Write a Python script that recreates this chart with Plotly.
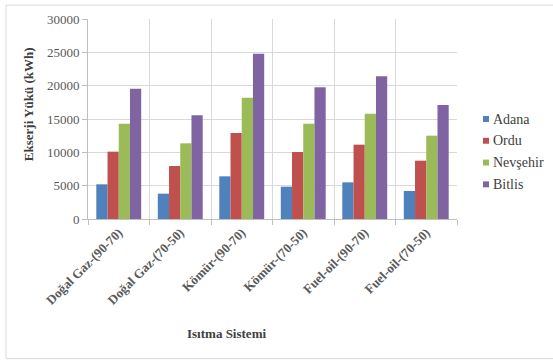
import plotly.graph_objects as go

categories = ["Doğal Gaz-(90-70)", "Doğal Gaz-(70-50)", "Kömür-(90-70)",
              "Kömür-(70-50)", "Fuel-oil-(90-70)", "Fuel-oil-(70-50)"]
adana = [5200, 3800, 6400, 4850, 5500, 4200]
ordu = [10100, 7950, 12900, 10050, 11150, 8750]
nevsehir = [14300, 11350, 18200, 14300, 15800, 12500]
bitlis = [19550, 15550, 24800, 19750, 21400, 17100]
series_names = ["Adana", "Ordu", "Nevşehir", "Bitlis"]
series_colors = ["#4F81BD", "#C0504D", "#9BBB59", "#8064A2"]
y_ticks = [0, 5000, 10000, 15000, 20000, 25000, 30000]

W, H = 553, 361
L, R, T, B = 88, 96, 17, 142
pw, ph = W - L - R, H - T - B


def px_x(x):
    return (x - L) / pw


def px_y(y):
    return (H - B - y) / ph


serif = "Times New Roman"

fig = go.Figure()
for name, vals, col in zip(series_names, [adana, ordu, nevsehir, bitlis], series_colors):
    fig.add_trace(go.Bar(x=categories, y=vals, name=name, marker_color=col,
                         marker_line_width=0, showlegend=False))

shapes = [
    # outer chart frame
    dict(type="rect", xref="paper", yref="paper",
         x0=px_x(6), x1=px_x(558), y0=px_y(360), y1=px_y(3),
         line=dict(color="#d9d9d9", width=1), fillcolor="rgba(0,0,0,0)", layer="below"),
]
annotations = [
    dict(text="<b>Ekserji Yükü (kWh)</b>", xref="paper", yref="paper",
         x=px_x(28), y=px_y(103), textangle=-90, showarrow=False,
         font=dict(family=serif, size=13, color="#404040"), xanchor="center", yanchor="middle"),
    dict(text="<b>Isıtma Sistemi</b>", xref="paper", yref="paper",
         x=px_x(226), y=px_y(335), showarrow=False,
         font=dict(family=serif, size=13, color="#404040"), xanchor="center", yanchor="middle"),
]

# legend: small squares with labels
for i, (name, col) in enumerate(zip(series_names, series_colors)):
    cy = 118 + 22 * i
    shapes.append(dict(type="rect", xref="paper", yref="paper",
                       x0=px_x(483), x1=px_x(489), y0=px_y(cy + 3), y1=px_y(cy - 3),
                       line=dict(width=0), fillcolor=col))
    annotations.append(dict(text=name, xref="paper", yref="paper",
                            x=px_x(491), y=px_y(cy), showarrow=False,
                            xanchor="left", yanchor="middle",
                            font=dict(family=serif, size=14, color="#404040")))

fig.update_layout(
    width=W, height=H,
    margin=dict(l=L, r=R, t=T, b=B),
    paper_bgcolor="white", plot_bgcolor="white",
    barmode="group", bargap=0.27, bargroupgap=0,
    showlegend=False,
    shapes=shapes, annotations=annotations,
    xaxis=dict(type="category", tickson="boundaries", showgrid=True,
               gridcolor="#d9d9d9", gridwidth=1, showline=True, linecolor="#bfbfbf",
               ticks="outside", ticklen=5, tickcolor="#bfbfbf", tickangle=-45,
               tickfont=dict(family=serif, size=13, color="#595959"),
               tickprefix="<b>", ticksuffix="</b>", mirror=False),
    yaxis=dict(range=[0, 30000], tickvals=y_ticks, ticktext=[str(v) for v in y_ticks],
               showgrid=True,
               gridcolor="#d9d9d9", gridwidth=1, showline=True, linecolor="#bfbfbf",
               ticks="outside", ticklen=5, tickcolor="#bfbfbf", zeroline=False,
               tickfont=dict(family=serif, size=13, color="#595959")),
)

fig.write_html("out.html")
